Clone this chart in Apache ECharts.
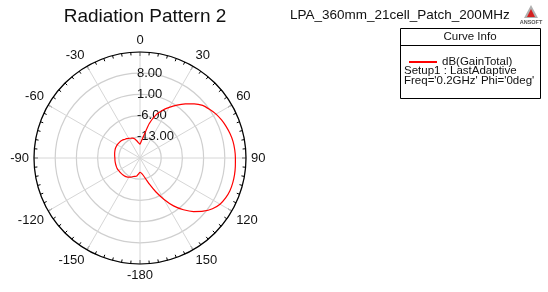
<!DOCTYPE html>
<html>
<head>
<meta charset="utf-8">
<script src="https://cdn.jsdelivr.net/npm/echarts@6/dist/echarts.min.js"></script>
<style>
  html, body { margin: 0; padding: 0; background: #fff; }
  #chart { width: 548px; height: 292px; }
</style>
</head>
<body>
<div id="chart"></div>
<script>
// angle in degrees (0 at top, clockwise), gain in dB
var angles = [0, 5, 10, 15, 20, 25, 30, 35, 40, 45, 50, 55, 60, 65, 70, 75, 80, 85,
  90, 95, 100, 105, 110, 115, 120, 125, 130, 135, 140, 145, 150, 155, 160, 165, 170, 175,
  180, 185, 190, 195, 200, 205, 210, 215, 220, 225, 230, 235, 240, 245, 250, 255, 260, 265,
  270, 275, 280, 285, 290, 295, 300, 305, 310, 315, 320, 325, 330, 335, 340, 345, 350, 355];
var gainTotal = [-15.5, -14.3, -12.3, -8.3, -5.0, -2.7, -0.7, 1.3, 3.3, 5.3, 7.0, 8.0, 9.0, 9.7, 10.3, 10.8, 11.2, 11.4,
  11.5, 11.6, 11.7, 11.7, 11.6, 11.2, 10.5, 9.2, 7.3, 5.0, 2.3, -0.7, -4.3, -7.7, -10.7, -13.0, -14.3, -15.0,
  -15.3, -14.7, -14.0, -13.7, -13.5, -13.0, -12.7, -12.4, -12.2, -12.1, -12.0, -11.9, -11.8, -11.7, -11.7, -11.7, -11.7, -11.7,
  -11.7, -11.6, -11.5, -11.4, -11.3, -11.3, -11.3, -11.4, -11.5, -11.7, -12.0, -12.2, -12.5, -12.8, -13.0, -13.5, -14.3, -15.0];
var radiusTicks = { min: -20, max: 15, step: 7 };
var legendLines = ["Setup1 : LastAdaptive", "Freq='0.2GHz' Phi='0deg'"];

var font = 'Liberation Sans, Arial, sans-serif';

var pts = [];
for (var i = 0; i < angles.length; i++) {
  pts.push([gainTotal[i], angles[i]]);
}
pts.push([gainTotal[0], 360]); // close the curve

var myChart = echarts.init(document.getElementById('chart'));

var option = {
  backgroundColor: '#fff',
  animation: false,
  title: {
    text: 'Radiation Pattern 2',
    left: 140,
    top: 2,
    textAlign: 'center',
    textStyle: { fontFamily: font, fontSize: 19, fontWeight: 'normal', color: '#111' }
  },
  legend: {
    left: 404,
    top: 51,
    itemWidth: 28,
    itemHeight: 2,
    icon: 'rect',
    textStyle: { fontFamily: font, fontSize: 11.5, color: '#111' },
    data: ['dB(GainTotal)']
  },
  polar: {
    center: [140, 158],
    radius: 106
  },
  angleAxis: {
    type: 'value',
    min: 0,
    max: 360,
    interval: 30,
    startAngle: 90,
    clockwise: true,
    axisLine: { lineStyle: { color: '#000', width: 1.2 } },
    axisTick: { show: true, inside: true, length: 4, lineStyle: { color: '#000', width: 1 } },
    minorTick: { show: true, splitNumber: 6, length: 3, lineStyle: { color: '#000', width: 1 } },
    axisLabel: {
      margin: 5,
      fontFamily: font,
      fontSize: 13,
      color: '#111',
      formatter: function (v) {
        if (v === 360) return '';
        if (v >= 180) return String(v - 360);
        return String(v);
      }
    },
    splitLine: { show: true, lineStyle: { color: '#d6d6d6', width: 1 } }
  },
  radiusAxis: {
    type: 'value',
    min: radiusTicks.min,
    max: radiusTicks.max,
    interval: radiusTicks.step,
    axisLine: { show: false },
    axisTick: { show: false },
    axisLabel: {
      showMinLabel: false,
      showMaxLabel: false,
      align: 'left',
      margin: 3,
      padding: [0, 0, 4, 0],
      fontFamily: font,
      fontSize: 13,
      color: '#111',
      formatter: function (v) { return v.toFixed(2); }
    },
    splitLine: { show: true, lineStyle: { color: '#cfcfcf', width: 1.2 } }
  },
  series: [{
    name: 'dB(GainTotal)',
    type: 'line',
    coordinateSystem: 'polar',
    symbol: 'none',
    smooth: 0.2,
    lineStyle: { color: '#ff0000', width: 1.2 },
    itemStyle: { color: '#ff0000' },
    data: pts,
    z: 5
  }],
  graphic: [
    {
      type: 'text', left: 290, top: 8,
      style: { text: 'LPA_360mm_21cell_Patch_200MHz', font: '13.5px ' + font, fill: '#111' }
    },
    // ansoft logo
    {
      type: 'polygon',
      shape: { points: [[531, 5], [524, 18], [538, 18]] },
      style: { fill: '#b0b0b0' }
    },
    {
      type: 'polygon',
      shape: { points: [[531, 9], [527, 17], [535, 17]] },
      style: { fill: '#d42020' }
    },
    {
      type: 'text', x: 531, y: 19,
      style: { text: 'ANSOFT', font: 'bold 5.5px ' + font, fill: '#555', align: 'center' }
    },
    // curve info box
    {
      type: 'rect',
      shape: { x: 400.5, y: 28.5, width: 140, height: 70 },
      style: { fill: '#fff', stroke: '#000', lineWidth: 1 },
      z: -1
    },
    {
      type: 'line',
      shape: { x1: 400.5, y1: 45.5, x2: 540.5, y2: 45.5 },
      style: { stroke: '#000', lineWidth: 1 }
    },
    {
      type: 'text', x: 470, y: 31,
      style: { text: 'Curve Info', font: '11.5px ' + font, fill: '#111', align: 'center' }
    },
    {
      type: 'text', x: 404, y: 65,
      style: { text: legendLines[0], font: '11.5px ' + font, fill: '#111' }
    },
    {
      type: 'text', x: 404, y: 75,
      style: { text: legendLines[1], font: '11.5px ' + font, fill: '#111' }
    }
  ]
};

myChart.setOption(option);
</script>
</body>
</html>
